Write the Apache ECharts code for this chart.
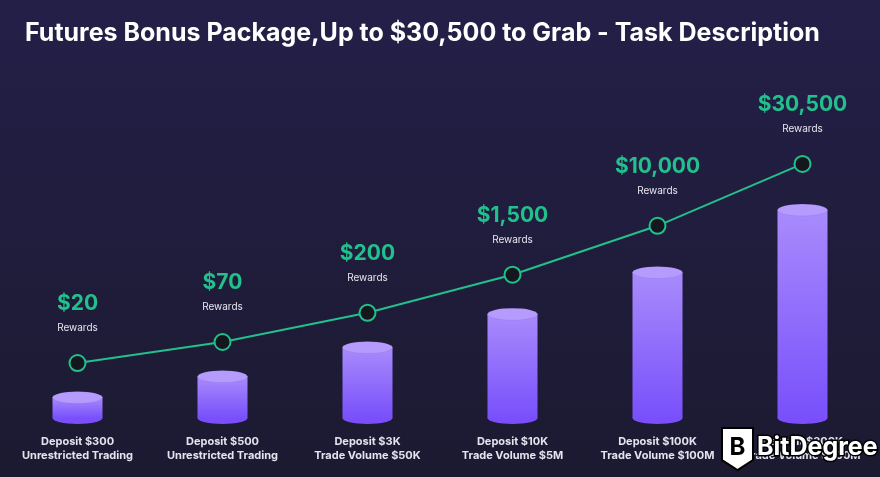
<!DOCTYPE html>
<html>
<head>
<meta charset="utf-8">
<script src="https://cdn.jsdelivr.net/npm/echarts@6/dist/echarts.min.js"></script>
<style>
html,body{margin:0;padding:0;background:#201c3c;}
#main{width:880px;height:477px;}
</style>
</head>
<body>
<div id="main"></div>
<script>
// ---- data ----
const categories = [
  'Deposit $300\nUnrestricted Trading',
  'Deposit $500\nUnrestricted Trading',
  'Deposit $3K\nTrade Volume $50K',
  'Deposit $10K\nTrade Volume $5M',
  'Deposit $100K\nTrade Volume $100M',
  'Deposit $300K\nTrade Volume $300M'
];
const rewards = ['$20', '$70', '$200', '$1,500', '$10,000', '$30,500'];
const barLevels = [1, 2, 3.4, 5, 7, 10];          // cylinder heights (relative)
const lineLevels = [2.64, 3.65, 5.05, 6.88, 9.23, 12.2]; // reward curve position (relative)

const chart = echarts.init(document.getElementById('main'));
const green = '#22c08c';
const option = {
  backgroundColor: {
    type: 'linear', x: 0, y: 0, x2: 0, y2: 1,
    colorStops: [{offset: 0, color: '#241f48'}, {offset: 1, color: '#1c1a31'}]
  },
  title: {
    text: 'Futures Bonus Package,Up to $30,500 to Grab - Task Description',
    left: 20, top: 16,
    textStyle: {color: '#ffffff', fontSize: 25, fontWeight: 'bold', fontFamily: 'Inter'}
  },
  grid: {left: 5, right: 5, top: 64, bottom: 59},
  xAxis: {
    type: 'category', data: categories,
    axisLine: {show: false}, axisTick: {show: false},
    axisLabel: {interval: 0, color: '#e4e4ee', fontSize: 11, fontWeight: 'bold', fontFamily: 'Inter', lineHeight: 14, margin: 17}
  },
  yAxis: {type: 'value', min: 0, max: 17, show: false, splitLine: {show: false}},
  series: [
    {
      type: 'bar', data: barLevels, barWidth: 50, z: 2,
      itemStyle: {color: {type: 'linear', x: 0, y: 0, x2: 0, y2: 1,
        colorStops: [{offset: 0, color: '#a98bfc'}, {offset: 1, color: '#7950fb'}]}}
    },
    {
      type: 'pictorialBar', data: barLevels, symbol: 'circle', symbolSize: [50, 12],
      symbolOffset: [0, '50%'], z: 1,
      itemStyle: {color: '#7a4ffa'}
    },
    {
      type: 'pictorialBar', data: barLevels, symbol: 'circle', symbolSize: [50, 12],
      symbolPosition: 'end', symbolOffset: [0, '-50%'], z: 3,
      itemStyle: {color: '#b49bfd', borderColor: '#2e2163', borderWidth: 1}
    },
    {
      type: 'line', data: lineLevels, z: 5,
      symbol: 'circle', symbolSize: 16,
      lineStyle: {color: green, width: 2},
      itemStyle: {color: '#15171f', borderColor: green, borderWidth: 2},
      label: {
        show: true, position: 'top', distance: 18,
        formatter: p => '{v|' + rewards[p.dataIndex] + '}\n{r|Rewards}',
        rich: {
          v: {color: green, fontSize: 21, fontWeight: 'bold', fontFamily: 'Inter', lineHeight: 32},
          r: {color: '#e6e6ee', fontSize: 10, fontFamily: 'Inter', lineHeight: 16}
        }
      }
    }
  ],
  graphic: [
    {type: 'polygon', shape: {points: [[722,428],[753,428],[753,460],[737.5,470],[722,460]]},
      style: {fill: '#ffffff', stroke: '#000000', lineWidth: 2}, z: 100},
    {type: 'text', x: 737.5, y: 448, style: {text: 'B', fill: '#000000', font: 'bold 24px Inter', align: 'center', verticalAlign: 'middle'}, z: 101},
    {type: 'text', x: 757, y: 447, style: {text: 'BitDegree', fill: '#ffffff', stroke: '#000000', lineWidth: 3, font: 'bold 25px Inter', verticalAlign: 'middle'}, z: 101}
  ]
};
chart.setOption(option);
</script>
</body>
</html>
